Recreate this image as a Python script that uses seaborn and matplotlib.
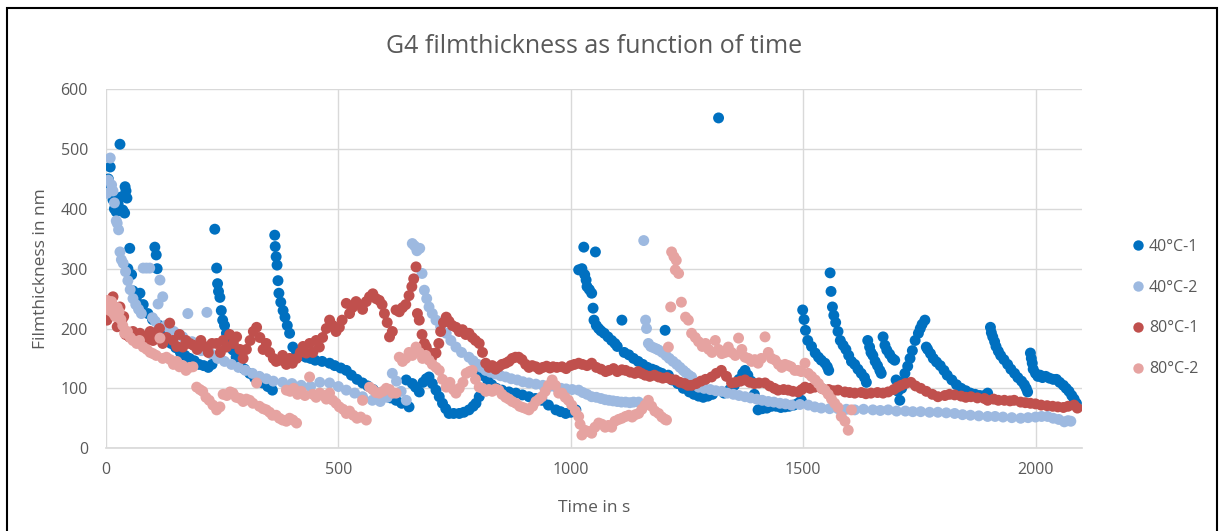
import numpy as np
import pandas as pd
import seaborn as sns
from matplotlib import pyplot as plt
from matplotlib.patches import Rectangle

# Values (time in s, filmthickness in nm)
t_40_1 = [2, 5, 9, 12, 15, 18, 22, 26, 30, 33, 36, 40, 41, 43, 45, 47, 51, 55, 58, 65, 73, 80, 90, 100, 105, 108, 110, 115, 122, 130,
          140, 150, 160, 170, 180, 190, 200, 210, 220, 228, 234, 238, 240, 242, 245, 248, 251, 255, 259, 265, 273, 280, 288, 298, 309,
          320, 337, 348, 358, 363, 364, 366, 368, 370, 372, 376, 381, 385, 390, 395, 402, 410, 420, 430, 440, 450, 465, 481, 492, 505,
          517, 528, 540, 552, 563, 575, 588, 600, 612, 624, 636, 646, 652, 659, 666, 674, 682, 689, 695, 702, 710, 717, 724, 731, 738,
          748, 760, 770, 781, 790, 796, 803, 807, 809, 815, 822, 830, 840, 852, 867, 882, 896, 910, 924, 938, 952, 968, 978, 989, 1000,
          1011, 1017, 1024, 1028, 1030, 1033, 1035, 1040, 1045, 1048, 1050, 1053, 1055, 1060, 1065, 1072, 1080, 1088, 1095, 1100, 1110,
          1115, 1125, 1135, 1145, 1155, 1165, 1175, 1182, 1189, 1196, 1203, 1210, 1218, 1230, 1242, 1255, 1265, 1275, 1285, 1295, 1305,
          1318, 1330, 1342, 1352, 1362, 1370, 1375, 1381, 1388, 1395, 1403, 1412, 1422, 1432, 1442, 1452, 1461, 1470, 1480, 1489, 1496,
          1499, 1502, 1505, 1510, 1518, 1526, 1533, 1539, 1547, 1552, 1555, 1558, 1560, 1563, 1566, 1570, 1575, 1580, 1586, 1592, 1598, 1604,
          1611, 1618, 1625, 1632, 1636, 1639, 1643, 1646, 1650, 1655, 1660, 1665, 1668, 1672, 1676, 1680, 1686, 1692, 1697, 1700, 1704, 1708,
          1712, 1716, 1719, 1725, 1730, 1735, 1741, 1748, 1752, 1756, 1762, 1765, 1768, 1774, 1780, 1787, 1795, 1803, 1810, 1820,
          1830, 1840, 1850, 1860, 1870, 1880, 1890, 1897, 1903, 1905, 1908, 1912, 1915, 1920, 1925, 1932, 1940, 1947, 1955, 1962,
          1970, 1976, 1980, 1983, 1989, 1991, 1993, 1995, 2000, 2005, 2010, 2015, 2022, 2030, 2038, 2045, 2052, 2060, 2066, 2072, 2078, 2083, 2088]
v_40_1 = [435, 450, 470, 430, 415, 400, 395, 408, 508, 420, 398, 393, 437, 430, 418, 300, 334, 290, 263, 250, 259, 240, 225, 215, 336, 323, 300, 205, 195, 188,
          175, 168, 160, 155, 150, 146, 140, 138, 135, 140, 366, 301, 275, 262, 252, 230, 214, 205, 192, 178, 164, 152, 142, 132, 125,
          117, 109, 103, 97, 356, 337, 320, 306, 280, 259, 244, 230, 219, 205, 192, 169, 160, 155, 152, 150, 147, 145, 142, 138, 134,
          130, 122, 115, 109, 104, 98, 92, 88, 84, 80, 75, 114, 69, 108, 102, 94, 110, 116, 119, 108, 97, 86, 75, 66, 58,
          58, 58, 60, 64, 70, 75, 86, 125, 125, 120, 112, 106, 100, 97, 94, 92, 89, 86, 83, 80, 72, 64, 61, 58, 60,
          64, 298, 300, 336, 290, 281, 270, 265, 259, 234, 214, 328, 205, 200, 196, 192, 186, 180, 175, 170, 214,
          160, 156, 150, 145, 140, 135, 132, 130, 127, 125, 197, 122, 114, 108, 100, 94, 90, 87, 85, 87, 90,
          552, 92, 98, 105, 115, 125, 130, 122, 112, 90, 64, 66, 67, 70, 70, 68, 69, 70, 72, 75, 80,
          231, 215, 197, 180, 170, 159, 152, 147, 142, 136, 130, 293, 262, 236, 222, 210, 195, 180, 172, 165, 155, 145,
          140, 132, 125, 118, 110, 180, 169, 160, 155, 145, 138, 130, 125, 186, 172, 164, 157, 150, 147, 114, 95, 80,
          100, 112, 125, 137, 150, 163, 180, 192, 200, 207, 214, 169, 165, 158, 150, 144, 138, 130, 122, 114,
          106, 100, 96, 92, 90, 88, 88, 92, 202, 193, 186, 178, 170, 162, 155, 148, 140, 132, 125, 118,
          112, 106, 100, 94, 159, 150, 142, 132, 125, 120, 122, 118, 120, 117, 115, 115, 110, 105, 100, 95, 88, 82, 75]

t_40_2 = [2, 5, 9, 12, 15, 18, 22, 24, 27, 30, 33, 37, 42, 47, 52, 58, 64, 70, 76, 80, 87, 94, 100, 106, 112, 116, 122, 128, 136, 146,
          158, 165, 176, 185, 195, 205, 217, 225, 240, 255, 270, 285, 300, 315, 330, 345, 360, 380, 400, 420, 440, 460, 481, 500, 517,
          535, 552, 573, 590, 605, 616, 625, 635, 646, 659, 664, 669, 675, 680, 685, 690, 695, 702, 710, 720, 732, 742, 753, 765, 781,
          790, 800, 808, 817, 827, 838, 849, 860, 872, 885, 897, 910, 925, 940, 954, 968, 979, 990, 1003, 1017,
          1026, 1035, 1045, 1055, 1065, 1074, 1082, 1091, 1100, 1109, 1118, 1127, 1135, 1146, 1157, 1161, 1163, 1167, 1172, 1178,
          1184, 1189, 1197, 1205, 1212, 1220, 1228, 1235, 1242, 1248, 1254, 1260, 1267, 1275, 1287, 1300, 1312, 1325, 1337, 1350,
          1362, 1375, 1387, 1400, 1412, 1425, 1437, 1450, 1462, 1475, 1493, 1511, 1525, 1539, 1557, 1575, 1593, 1611, 1630, 1650,
          1666, 1683, 1701, 1720, 1736, 1753, 1772, 1790, 1808, 1826, 1843, 1860, 1878, 1897, 1913, 1930, 1949, 1968, 1984, 2000,
          2013, 2026, 2038, 2050, 2062, 2070, 2076]
v_40_2 = [426, 448, 485, 440, 430, 410, 380, 376, 365, 328, 315, 309, 295, 280, 265, 250, 240, 232, 225, 301, 301, 301, 218, 212, 241, 281, 253, 205, 200, 195,
          190, 186, 225, 178, 170, 163, 227, 158, 150, 145, 140, 135, 130, 125, 120, 116, 112, 110, 108, 105, 103, 110, 109, 103, 97,
          92, 86, 80, 78, 85, 125, 112, 95, 80, 342, 338, 330, 334, 292, 264, 250, 236, 225, 214, 203, 192, 180, 169, 160, 152,
          146, 140, 135, 130, 127, 124, 121, 119, 116, 114, 111, 109, 107, 105, 103, 102, 100, 99, 98, 97,
          93, 90, 86, 85, 83, 81, 80, 79, 78, 77, 77, 76, 77, 77, 347, 214, 200, 175, 170, 168,
          166, 164, 160, 155, 150, 145, 140, 135, 130, 126, 122, 119, 110, 102, 100, 98, 96, 95, 92, 90,
          88, 86, 84, 82, 80, 78, 77, 75, 74, 72, 73, 72, 69, 67, 66, 66, 65, 64, 65, 64,
          63, 64, 62, 62, 61, 61, 60, 60, 59, 58, 56, 55, 54, 53, 53, 52, 51, 50, 51, 52,
          53, 53, 50, 48, 44, 46, 45]

t_80_1 = [2, 6, 10, 15, 20, 24, 30, 34, 38, 42, 50, 58, 66, 73, 80, 88, 95, 101, 108, 115, 122, 130, 137, 144, 152, 158, 165, 172, 180, 188,
          196, 204, 212, 220, 228, 238, 246, 252, 259, 266, 274, 281, 288, 295, 302, 310, 317, 324, 331, 338, 345, 352, 360, 366, 373,
          380, 388, 395, 401, 410, 418, 424, 431, 438, 445, 452, 459, 466, 474, 481, 488, 495, 502, 508, 517, 524, 530, 538, 545, 552,
          560, 567, 574, 581, 588, 594, 599, 605, 610, 616, 624, 631, 638, 645, 652, 658, 662, 667, 670, 674, 680, 685, 689, 695, 700,
          705, 710, 716, 720, 726, 732, 738, 745, 753, 760, 767, 774, 781, 788, 795, 803, 810, 817, 824, 831, 838, 845, 852, 860, 867,
          874, 881, 888, 895, 903, 910, 917, 925, 932, 940, 948, 955, 962, 970, 981, 990, 1000, 1008, 1017, 1025, 1035, 1045, 1055,
          1065, 1075, 1082, 1092, 1100, 1110, 1118, 1128, 1138, 1145, 1152, 1160, 1170, 1180, 1189, 1198, 1207, 1216, 1225, 1235, 1245,
          1252, 1260, 1270, 1280, 1290, 1303, 1313, 1324, 1335, 1346, 1355, 1365, 1375, 1385, 1395, 1405, 1418, 1428, 1438, 1446, 1458,
          1468, 1478, 1489, 1497, 1504, 1515, 1525, 1540, 1555, 1565, 1575, 1590, 1600, 1611, 1625, 1635, 1646, 1660, 1672, 1683, 1695,
          1703, 1711, 1720, 1732, 1742, 1753, 1765, 1778, 1790, 1805, 1815, 1826, 1840, 1850, 1861, 1875, 1890, 1897, 1910, 1920, 1933,
          1945, 1954, 1968, 1978, 1989, 2000, 2012, 2025, 2037, 2048, 2060, 2070, 2083, 2090]
v_80_1 = [214, 225, 240, 253, 230, 203, 236, 214, 220, 190, 186, 195, 188, 192, 186, 180, 195, 180, 192, 200, 175, 185, 209, 180, 170, 190, 169, 180, 175, 172,
          165, 180, 170, 160, 175, 175, 160, 180, 169, 190, 175, 186, 165, 150, 165, 180, 195, 202, 185, 165, 175, 160, 150, 145, 147,
          155, 140, 150, 142, 150, 160, 170, 159, 175, 160, 180, 169, 185, 200, 214, 205, 195, 202, 214, 242, 225, 235, 245, 240, 232,
          245, 253, 258, 250, 247, 240, 225, 210, 186, 195, 231, 228, 235, 240, 255, 270, 283, 303, 225, 214, 190, 175, 169, 160, 150,
          158, 159, 175, 195, 210, 219, 212, 205, 202, 195, 198, 190, 192, 185, 180, 175, 160, 142, 135, 138, 132, 136, 140, 142, 145,
          150, 152, 152, 148, 140, 135, 138, 136, 132, 135, 137, 134, 136, 135, 136, 133, 138, 140, 142, 140, 138, 142, 135,
          132, 128, 130, 133, 128, 131, 130, 127, 125, 128, 125, 122, 120, 122, 119, 117, 118, 115, 114, 110, 108,
          105, 105, 108, 112, 115, 119, 125, 130, 120, 109, 110, 112, 114, 110, 108, 109, 109, 104, 100, 97, 98,
          97, 95, 94, 98, 102, 100, 102, 100, 98, 96, 97, 94, 93, 92, 93, 91, 92, 93, 92, 94, 98,
          102, 105, 108, 110, 104, 100, 95, 90, 86, 88, 90, 89, 87, 85, 86, 84, 83, 80, 82, 80, 80,
          79, 80, 77, 76, 75, 74, 72, 71, 70, 69, 68, 70, 72, 67]

t_80_2 = [2, 5, 8, 12, 16, 20, 24, 28, 32, 36, 40, 46, 52, 58, 66, 72, 80, 88, 95, 101, 108, 116, 122, 130, 138, 145, 152, 158, 165, 172,
          180, 187, 195, 202, 208, 215, 222, 230, 238, 245, 252, 260, 267, 273, 280, 288, 295, 302, 309, 316, 324, 330, 338, 345, 352,
          358, 366, 373, 380, 388, 395, 402, 410, 388, 396, 404, 412, 420, 428, 438, 445, 452, 460, 468, 474, 481, 488, 495, 502, 510,
          517, 524, 532, 540, 548, 552, 560, 567, 574, 581, 588, 596, 603, 610, 617, 624, 631, 638, 645, 652, 659, 667, 674, 681, 688,
          695, 702, 710, 717, 724, 732, 740, 747, 753, 760, 768, 775, 782, 788, 795, 803, 810, 817, 824, 831, 838, 845, 852, 860, 867,
          874, 882, 890, 897, 904, 910, 918, 925, 932, 938, 945, 952, 960, 967, 974, 981, 988, 995, 1002, 1010, 1017, 1020, 1024, 1030,
          1038, 1045, 1052, 1060, 1067, 1074, 1081, 1088, 1095, 1103, 1110, 1118, 1125, 1132, 1139, 1146, 1153, 1160, 1167, 1174, 1181,
          1189, 1196, 1203, 1206, 1210, 1215, 1217, 1222, 1225, 1227, 1232, 1238, 1247, 1253, 1260, 1268, 1275, 1283, 1290, 1297, 1304,
          1311, 1318, 1325, 1332, 1339, 1346, 1354, 1361, 1368, 1375, 1382, 1389, 1396, 1403, 1410, 1418, 1425, 1432, 1440, 1447, 1454,
          1461, 1468, 1474, 1482, 1489, 1496, 1504, 1511, 1518, 1526, 1533, 1540, 1547, 1554, 1561, 1568, 1575, 1582, 1590, 1597, 1604]
v_80_2 = [247, 236, 230, 245, 225, 220, 235, 228, 215, 205, 192, 195, 185, 180, 175, 180, 169, 165, 160, 158, 155, 184, 150, 152, 148, 140, 145, 136, 138, 130,
          135, 136, 102, 98, 95, 85, 80, 72, 64, 69, 90, 88, 94, 92, 85, 83, 78, 82, 80, 75, 109, 70, 66, 64, 60,
          55, 55, 50, 47, 45, 50, 47, 42, 97, 95, 100, 90, 95, 88, 119, 90, 85, 92, 88, 82, 92, 80, 75, 69, 65,
          58, 62, 55, 50, 52, 80, 47, 102, 98, 93, 92, 95, 100, 98, 92, 92, 152, 145, 150, 160, 155, 169, 160, 150, 155,
          147, 140, 135, 130, 115, 102, 110, 98, 92, 100, 110, 125, 128, 130, 115, 102, 100, 95, 98, 95, 99, 97, 90, 85, 82,
          78, 75, 70, 68, 66, 64, 70, 78, 82, 86, 95, 105, 114, 105, 92, 92, 85, 80, 72, 62, 53, 40, 22, 30,
          28, 25, 35, 42, 40, 35, 38, 35, 45, 48, 50, 53, 55, 52, 56, 58, 65, 72, 80, 70, 62,
          58, 52, 48, 47, 169, 236, 328, 320, 298, 314, 292, 244, 219, 214, 192, 185, 178, 170, 175, 165, 160,
          180, 165, 158, 160, 169, 160, 155, 184, 165, 152, 150, 145, 148, 142, 150, 186, 160, 150, 147, 140, 135,
          140, 138, 136, 130, 130, 128, 142, 125, 120, 114, 108, 100, 97, 90, 82, 75, 68, 53, 45, 30, 64]

labels = ['40°C-1', '40°C-2', '80°C-1', '80°C-2']
colors = ['#0070C0', '#9DB9E0', '#C0504D', '#E6A3A1']

# Junta tudo em formato long
frames = []
for lab, t, v in zip(labels, [t_40_1, t_40_2, t_80_1, t_80_2], [v_40_1, v_40_2, v_80_1, v_80_2]):
    frames.append(pd.DataFrame({'time': t, 'thickness': v, 'series': lab}))
data = pd.concat(frames, ignore_index=True)

sns.set_theme(style='whitegrid')
plt.rcParams['font.family'] = ['Open Sans', 'DejaVu Sans']

fig = plt.figure(figsize=(12.23, 5.31), dpi=100)
ax = fig.add_axes([0.0867, 0.156, 0.798, 0.676])

sns.scatterplot(data=data, x='time', y='thickness', hue='series',
                hue_order=labels, palette=dict(zip(labels, colors)),
                s=62, linewidth=0, alpha=1, ax=ax, legend=True)

ax.set_xlim(0, 2100)
ax.set_ylim(0, 600)
ax.set_xticks([0, 500, 1000, 1500, 2000])
ax.set_yticks([0, 100, 200, 300, 400, 500, 600])
ax.grid(True, color='#D9D9D9', linewidth=1)
for side in ['top', 'right', 'left']:
    ax.spines[side].set_visible(False)
ax.spines['bottom'].set_color('#D9D9D9')
ax.tick_params(axis='both', colors='#595959', labelsize=11.5, length=0)
ax.tick_params(axis='x', pad=10)
ax.tick_params(axis='y', pad=13)

ax.set_title('G4 filmthickness as function of time', fontsize=18, color='#595959', pad=26)
ax.set_xlabel('Time in s', fontsize=12.5, color='#595959', labelpad=16)
ax.set_ylabel('Filmthickness in nm', fontsize=12.5, color='#595959', labelpad=8)

leg = ax.legend(loc='center left', bbox_to_anchor=(1125 / 1223, 1 - 308 / 531),
                bbox_transform=fig.transFigure, borderaxespad=0, frameon=False,
                fontsize=11.5, labelspacing=1.55, handlelength=0.8, handletextpad=0.3,
                markerscale=0.95)
for txt in leg.get_texts():
    txt.set_color('#595959')

# Moldura preta em volta da figura
fig.patches.append(Rectangle((7 / 1223, -0.05), 1210 / 1223, 1.035, transform=fig.transFigure,
                             fill=False, edgecolor='black', linewidth=1.5, clip_on=False))

plt.savefig('out.png', dpi=100)
plt.close()
